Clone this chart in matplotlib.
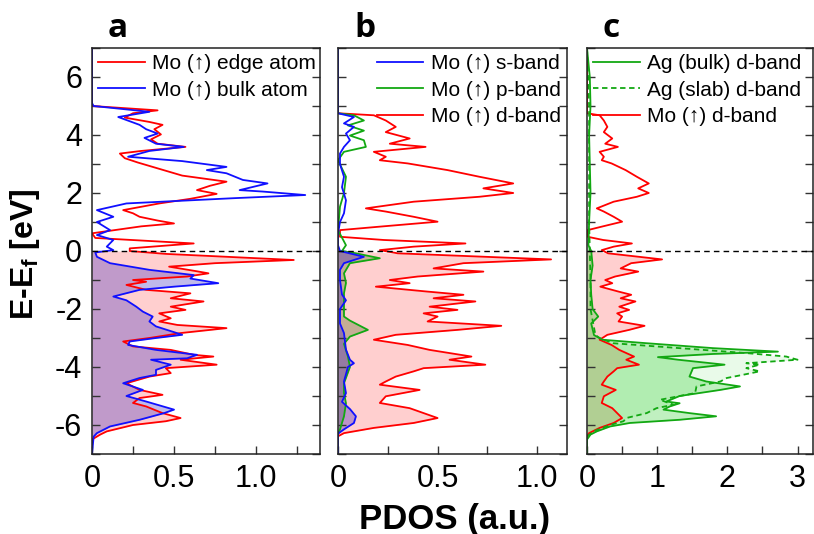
import numpy as np
import matplotlib
matplotlib.use('Agg')
import matplotlib.pyplot as plt
from matplotlib.ticker import MultipleLocator

plt.rcParams['font.family'] = ['Liberation Sans', 'DejaVu Sans']
plt.rcParams['axes.unicode_minus'] = False
plt.rcParams['mathtext.fontset'] = 'custom'
plt.rcParams['mathtext.bf'] = 'Liberation Sans:bold'
plt.rcParams['mathtext.rm'] = 'Liberation Sans'

# ---- panel a: Mo (up) edge / bulk atom ----
a_bulk_E = [7.0, 5.1, 5.0, 4.8, 4.62, 4.35, 4.2, 4.05, 3.9, 3.7, 3.59, 3.45, 3.25, 3.1, 2.9, 2.79,
            2.68, 2.45, 2.33, 2.1, 2.05, 1.93, 1.82, 1.64, 1.41, 1.18, 1.0, 0.72, 0.55, 0.38, 0.15,
            0.03, -0.05, -0.2, -0.42, -0.65, -0.83, -0.95, -1.11, -1.23, -1.34, -1.57, -1.7, -1.92,
            -2.09, -2.26, -2.43, -2.6, -2.78, -2.89, -3.0, -3.12, -3.24, -3.41, -3.58, -3.7, -3.75,
            -3.92, -4.1, -4.27, -4.38, -4.56, -4.79, -5.0, -5.19, -5.47, -5.59, -5.82, -6.05, -6.28,
            -6.4, -7.0]
a_bulk_v = [0.0, 0.0, 0.01, 0.35, 0.16, 0.29, 0.33, 0.40, 0.32, 0.39, 0.56, 0.35, 0.22, 0.55, 0.82, 0.70,
            0.82, 0.92, 1.07, 0.90, 1.04, 1.30, 0.86, 0.21, 0.03, 0.13, 0.03, 0.11, 0.03, 0.13, 0.09,
            0.13, 0.02, 0.03, 0.11, 0.35, 0.62, 0.60, 0.77, 0.50, 0.29, 0.13, 0.21, 0.27,
            0.31, 0.37, 0.35, 0.39, 0.49, 0.55, 0.39, 0.23, 0.22, 0.39, 0.64, 0.58, 0.36,
            0.48, 0.39, 0.39, 0.29, 0.19, 0.31, 0.21, 0.33, 0.50, 0.44, 0.29, 0.11, 0.03,
            0.01, 0.0]

a_edge_E = [7.0, 5.0, 4.85, 4.75, 4.6, 4.45, 4.35, 4.2, 4.02, 3.85, 3.7, 3.59, 3.45, 3.36, 3.2, 3.05,
            2.85, 2.6, 2.39, 2.25, 2.1, 1.97, 1.8, 1.64, 1.41, 1.3, 1.18, 1.05, 0.95, 0.85, 0.61, 0.45,
            0.26, 0.09, 0.0, -0.1, -0.31, -0.42, -0.54, -0.7, -0.77, -0.88, -1.0, -1.06, -1.17, -1.34,
            -1.46, -1.63, -1.74, -1.92, -2.03, -2.15, -2.32, -2.43, -2.55, -2.66, -2.83, -3.0, -3.12,
            -3.29, -3.41, -3.58, -3.64, -3.75, -3.92, -4.04, -4.21, -4.33, -4.56, -4.79, -4.96, -5.07,
            -5.24, -5.36, -5.59, -5.76, -5.87, -6.0, -6.22, -6.33, -6.5, -7.0]
a_edge_v = [0.0, 0.0, 0.40, 0.25, 0.20, 0.35, 0.43, 0.38, 0.42, 0.36, 0.40, 0.57, 0.30, 0.17, 0.20, 0.28,
            0.40, 0.55, 0.82, 0.72, 0.64, 0.76, 0.60, 0.41, 0.19, 0.25, 0.29, 0.40, 0.50, 0.30, 0.0, 0.02,
            0.62, 0.23, 0.23, 0.45, 1.23, 0.75, 0.47, 0.64, 0.71, 0.58, 0.25, 0.33, 0.21, 0.33,
            0.60, 0.48, 0.68, 0.48, 0.57, 0.41, 0.48, 0.41, 0.52, 0.82, 0.54, 0.35, 0.19,
            0.25, 0.48, 0.62, 0.74, 0.54, 0.76, 0.45, 0.48, 0.35, 0.21, 0.29, 0.43, 0.29,
            0.25, 0.33, 0.43, 0.54, 0.45, 0.25, 0.09, 0.05, 0.0, 0.0]

# ---- panel b / c: Mo (up) s, p, d bands ----
mo_d_E = [7.0, 4.75, 4.68, 4.5, 4.28, 4.1, 3.88, 3.7, 3.59, 3.42, 3.25, 3.13, 3.02, 2.79, 2.56, 2.33,
          2.16, 2.0, 1.87, 1.7, 1.47, 1.36, 1.18, 1.01, 0.84, 0.72, 0.49, 0.38, 0.26, 0.15, 0.03,
          -0.08, -0.29, -0.42, -0.6, -0.71, -0.88, -1.0, -1.11, -1.23, -1.4, -1.51, -1.63, -1.74,
          -1.92, -2.03, -2.15, -2.26, -2.43, -2.58, -2.72, -2.89, -3.06, -3.24, -3.41, -3.64, -3.75,
          -3.92, -4.04, -4.15, -4.33, -4.5, -4.61, -4.79, -5.01, -5.24, -5.42, -5.59, -5.76, -5.93,
          -6.1, -6.28, -6.39, -7.0]
mo_d_v = [0.0, 0.0, 0.18, 0.24, 0.29, 0.24, 0.36, 0.26, 0.44, 0.18, 0.24, 0.21, 0.35, 0.55, 0.71, 0.88,
          0.73, 0.88, 0.71, 0.38, 0.14, 0.24, 0.38, 0.50, 0.21, 0.01, 0.01, 0.23, 0.64, 0.38, 0.21,
          0.30, 1.07, 0.63, 0.48, 0.73, 0.40, 0.26, 0.36, 0.19, 0.45, 0.63, 0.48, 0.69,
          0.46, 0.60, 0.43, 0.50, 0.45, 0.82, 0.60, 0.29, 0.18, 0.35, 0.46, 0.67, 0.56,
          0.74, 0.43, 0.38, 0.29, 0.24, 0.21, 0.41, 0.24, 0.21, 0.36, 0.43, 0.50, 0.38,
          0.18, 0.03, 0.0, 0.0]

mo_s_E = [7.0, 4.75, 4.62, 4.4, 4.28, 4.05, 3.82, 3.59, 3.36, 3.0, 2.56, 2.2, 1.75, 1.3, 1.0, 0.6,
          0.2, 0.0, -0.2, -0.42, -0.65, -1.0, -1.5, -1.7, -2.0, -2.5, -2.83, -3.4, -3.75, -3.87,
          -4.0, -4.5, -4.9, -5.2, -5.45, -5.7, -5.93, -6.15, -6.3, -7.0]
mo_s_v = [0.0, 0.0, 0.08, 0.03, 0.08, 0.04, 0.06, 0.03, 0.01, 0.01, 0.03, 0.02, 0.04, 0.03, 0.01, 0.0,
          0.0, 0.01, 0.13, 0.03, 0.01, 0.01, 0.02, 0.04, 0.01, 0.01, 0.03, 0.04, 0.06, 0.08,
          0.05, 0.03, 0.04, 0.02, 0.06, 0.09, 0.08, 0.03, 0.0, 0.0]

mo_p_E = [7.0, 4.75, 4.68, 4.5, 4.33, 4.15, 3.98, 3.82, 3.59, 3.42, 3.13, 2.56, 2.0, 1.53, 0.72, 0.2,
          0.0, -0.08, -0.25, -0.42, -0.77, -1.1, -1.46, -2.26, -2.4, -2.72, -2.95, -3.2, -3.64,
          -4.0, -4.56, -4.9, -5.25, -5.7, -6.15, -6.3, -7.0]
mo_p_v = [0.0, 0.0, 0.08, 0.13, 0.05, 0.13, 0.06, 0.13, 0.14, 0.03, 0.0, 0.04, 0.03, 0.01, 0.0, 0.04,
          0.02, 0.09, 0.21, 0.06, 0.03, 0.04, 0.03, 0.03, 0.06, 0.15, 0.06, 0.03, 0.05,
          0.06, 0.03, 0.03, 0.04, 0.03, 0.01, 0.0, 0.0]

# ---- panel c: Ag d-band ----
ag_bulk_E = [7.0, 6.5, 6.0, 5.0, 4.0, 3.0, 2.0, 1.0, 0.2, 0.0, -0.5, -1.0, -1.5, -2.0, -2.26, -2.5,
             -2.9, -3.06, -3.18, -3.35, -3.47, -3.55, -3.66, -3.75, -3.92, -4.04, -4.33, -4.5, -4.67,
             -4.79, -5.0, -5.19, -5.25, -5.36, -5.47, -5.59, -5.7, -5.82, -5.93, -6.05, -6.22, -6.33,
             -6.5, -7.0]
ag_bulk_v = [0.0, 0.02, 0.04, 0.05, 0.03, 0.04, 0.05, 0.03, 0.02, 0.06, 0.08, 0.05, 0.06, 0.08, 0.16, 0.06,
             0.10, 0.22, 0.85, 1.8, 2.72, 1.8, 1.01, 1.3, 1.96, 1.51, 1.46, 1.70, 2.18,
             1.9, 1.32, 1.13, 1.32, 1.18, 1.09, 1.46, 1.84, 1.32, 0.61, 0.33, 0.14, 0.05,
             0.0, 0.0]

ag_slab_E = [7.0, 5.0, 3.0, 1.0, 0.0, -1.0, -2.0, -2.9, -3.0, -3.18, -3.35, -3.52, -3.64, -3.75, -3.87,
             -3.92, -4.04, -4.15, -4.27, -4.38, -4.5, -4.67, -4.9, -5.13, -5.3, -5.42, -5.59, -5.76,
             -5.87, -6.0, -6.22, -6.4, -7.0]
ag_slab_v = [0.0, 0.03, 0.03, 0.03, 0.04, 0.05, 0.05, 0.12, 0.18, 0.37, 1.32, 2.27, 2.84, 3.0, 2.27,
             2.46, 2.27, 2.46, 2.22, 1.99, 1.9, 1.56, 1.54, 1.04, 1.23, 0.99, 0.85, 0.56,
             0.52, 0.33, 0.09, 0.0, 0.0]

RED = '#ff0000'
BLUE = '#1010ff'
GREEN = '#12a812'


def curve(ax, E, v, color, fill=None, alpha=0.25, ls='-', label=None):
    E = np.array(E)
    v = np.array(v)
    if fill is not None:
        ax.fill_betweenx(E, 0, v, where=E <= 0.001, interpolate=True,
                         color=fill, alpha=alpha, lw=0)
    ax.plot(v, E, color=color, lw=1.3, ls=ls, label=label)


def style(ax, xmax, major, ylabels=False):
    ax.set_xlim(0, xmax)
    ax.set_ylim(-7, 7)
    ax.axhline(0, color='black', lw=1, ls=(0, (4, 3)), zorder=5)
    ax.xaxis.set_major_locator(MultipleLocator(major))
    ax.xaxis.set_minor_locator(MultipleLocator(major / 2))
    ax.yaxis.set_major_locator(MultipleLocator(2))
    ax.yaxis.set_minor_locator(MultipleLocator(1))
    ax.tick_params(which='both', direction='in', length=6, width=1, top=False, right=True,
                   left=True, labelsize=22, pad=7, colors='#333333', labelcolor='black')
    if not ylabels:
        ax.tick_params(labelleft=False)
    for s in ax.spines.values():
        s.set_linewidth(1.1)
        s.set_color('#222222')


fig = plt.figure(figsize=(8.14, 5.34), dpi=100)
W, H = 814, 534
bot, top = 454, 48


def add_ax(l, r):
    return fig.add_axes([l / W, (H - bot) / H, (r - l) / W, (bot - top) / H])


ax_a = add_ax(92, 320)
ax_b = add_ax(338, 567)
ax_c = add_ax(587, 813)

# panel a
curve(ax_a, a_edge_E, a_edge_v, RED, fill='#ff4040', alpha=0.25, label='Mo (↑) edge atom')
curve(ax_a, a_bulk_E, a_bulk_v, BLUE, fill='#4030c0', alpha=0.33, label='Mo (↑) bulk atom')
style(ax_a, 1.39, 0.5, ylabels=True)
ax_a.set_xticks([0, 0.5, 1.0])
ax_a.set_xticklabels(['0', '0.5', '1.0'])

# panel b
curve(ax_b, mo_d_E, mo_d_v, RED, fill='#ff4040', alpha=0.25, label='Mo (↑) d-band')
curve(ax_b, mo_p_E, mo_p_v, GREEN, fill='#406010', alpha=0.3, label='Mo (↑) p-band')
curve(ax_b, mo_s_E, mo_s_v, BLUE, fill='#4020c0', alpha=0.35, label='Mo (↑) s-band')
style(ax_b, 1.15, 0.5)
ax_b.set_xticks([0, 0.5, 1.0])
ax_b.set_xticklabels(['0', '0.5', '1.0'])

# panel c
curve(ax_c, mo_d_E, mo_d_v, RED, fill='#ff4040', alpha=0.25, label='Mo (↑) d-band')
curve(ax_c, ag_slab_E, ag_slab_v, GREEN, fill='#30d030', alpha=0.1, ls=(0, (3, 2)),
      label='Ag (slab) d-band')
curve(ax_c, ag_bulk_E, ag_bulk_v, GREEN, fill='#30d030', alpha=0.3, label='Ag (bulk) d-band')
style(ax_c, 3.22, 1)

# legends (order as in the reference)
leg_kw = dict(frameon=False, fontsize=15, handlelength=2.25, handletextpad=0.35,
              labelspacing=0.36, borderaxespad=0.1, borderpad=0.2)
ha, la = ax_a.get_legend_handles_labels()
ax_a.legend(ha, la, loc='upper left', **leg_kw)
hb, lb = ax_b.get_legend_handles_labels()
ax_b.legend([hb[2], hb[1], hb[0]], [lb[2], lb[1], lb[0]], loc='upper right', **leg_kw)
hc, lc = ax_c.get_legend_handles_labels()
ax_c.legend([hc[2], hc[1], hc[0]], [lc[2], lc[1], lc[0]], loc='upper left', **leg_kw)

# panel letters
for ax, letter in [(ax_a, 'a'), (ax_b, 'b'), (ax_c, 'c')]:
    ax.text(0.07, 1.008, letter, transform=ax.transAxes, fontsize=24, fontweight='bold',
            family=['Open Sans', 'DejaVu Sans'], va='bottom', ha='left')

fig.text(25 / W, 1 - 254 / H, r'E-E$_\mathbf{f}$ [eV]', rotation=90, fontsize=23,
         fontweight='bold', ha='center', va='center')
fig.text(455 / W, 1 - 519 / H, 'PDOS (a.u.)', fontsize=25, fontweight='bold',
         ha='center', va='center')

fig.savefig('out.png', dpi=100)
